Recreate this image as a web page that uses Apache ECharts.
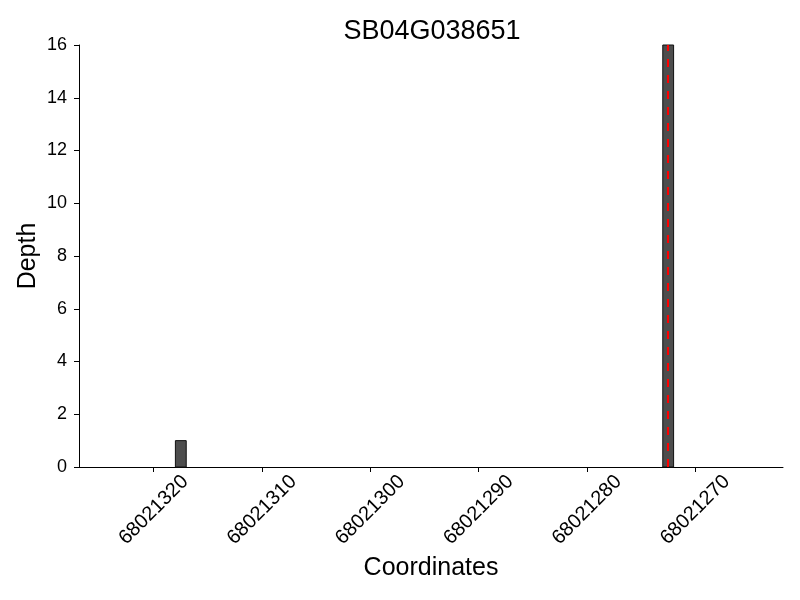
<!DOCTYPE html>
<html>
<head>
<meta charset="utf-8">
<script src="https://cdn.jsdelivr.net/npm/echarts@6/dist/echarts.min.js"></script>
<style>
  html, body { margin: 0; padding: 0; background: #fff; }
  #chart { width: 800px; height: 600px; }
</style>
</head>
<body>
<div id="chart"></div>
<script>
// read-depth per genomic coordinate (bar covers [pos - 1, pos])
const positions = [68021318, 68021273]
const depths = [1, 16]
// variant position (red dashed line)
const variantPos = [68021272.5]
const xTicks = [68021320, 68021310, 68021300, 68021290, 68021280, 68021270]
const yTicks = [0, 2, 4, 6, 8, 10, 12, 14, 16]

const FONT = 'Liberation Sans'
const chart = echarts.init(document.getElementById('chart'))

const barData = positions.map((p, i) => [p, depths[i]])

chart.setOption({
  animation: false,
  title: {
    text: 'SB04G038651',
    left: 427, // centred over the plot area, not the page
    textAlign: 'center',
    top: 13,
    textStyle: { fontFamily: FONT, fontSize: 27, fontWeight: 'normal', color: '#000' }
  },
  grid: { left: 79, right: 17, top: 45, bottom: 133 },
  xAxis: {
    type: 'value',
    inverse: true,
    min: 68021261.9,
    max: 68021326.9,
    name: 'Coordinates',
    nameLocation: 'middle',
    nameGap: 89,
    nameMoveOverlap: false,
    nameTextStyle: { fontFamily: FONT, fontSize: 25, color: '#000' },
    axisLine: { onZero: false, lineStyle: { color: '#000', width: 1 } },
    axisTick: { show: true, customValues: xTicks, length: 5, inside: false, lineStyle: { color: '#000' } },
    axisLabel: {
      customValues: xTicks,
      rotate: 45,
      align: 'center',
      verticalAlign: 'middle',
      margin: 43,
      fontFamily: FONT,
      fontSize: 20,
      color: '#000',
      formatter: v => String(v)
    },
    splitLine: { show: false }
  },
  yAxis: {
    type: 'value',
    min: 0,
    max: 16,
    interval: 2,
    name: 'Depth',
    nameLocation: 'middle',
    nameGap: 38,
    nameMoveOverlap: false,
    nameTextStyle: { fontFamily: FONT, fontSize: 25, color: '#000' },
    axisLine: { show: true, lineStyle: { color: '#000', width: 1 } },
    axisTick: { show: true, customValues: yTicks, length: 5, lineStyle: { color: '#000' } },
    axisLabel: { customValues: yTicks, fontFamily: FONT, fontSize: 18, color: '#000', margin: 12 },
    splitLine: { show: false }
  },
  series: [
    {
      type: 'custom',
      data: barData,
      renderItem: function (params, api) {
        const p = api.value(0)
        const d = api.value(1)
        const a = api.coord([p, d])
        const b = api.coord([p - 1, 0])
        return {
          type: 'rect',
          shape: {
            x: Math.min(a[0], b[0]),
            y: a[1],
            width: Math.abs(b[0] - a[0]),
            height: b[1] - a[1]
          },
          style: { fill: '#4d4d4d', stroke: '#111', lineWidth: 1 }
        }
      },
      z: 2
    },
    {
      type: 'line',
      data: [],
      markLine: {
        silent: true,
        symbol: 'none',
        label: { show: false },
        lineStyle: { color: '#ff0000', type: [8, 8], width: 2 },
        data: variantPos.map(v => ({ xAxis: v }))
      },
      z: 3
    }
  ]
})
</script>
</body>
</html>
